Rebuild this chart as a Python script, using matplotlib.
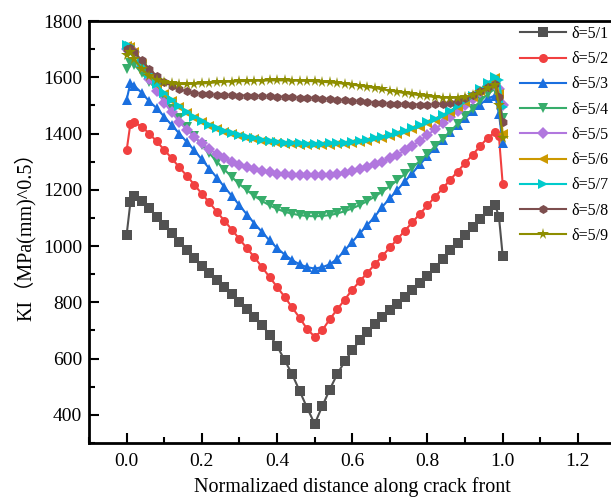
import matplotlib
matplotlib.use("Agg")
import matplotlib.pyplot as plt
from matplotlib.ticker import MultipleLocator

# positions along the crack front (normalized)
x = [0.0, 0.01] + [round(0.02 * i, 2) for i in range(1, 50)] + [0.99, 1.0]

k_5_1 = [1040, 1155, 1178, 1160, 1135, 1105, 1075, 1045, 1015, 985, 957, 930,
         905, 880, 855, 828, 800, 775, 748, 720, 685, 645, 595, 545, 485, 425,
         368, 430, 490, 545, 590, 630, 665, 695, 722, 748, 772, 795, 820, 843,
         868, 893, 922, 955, 985, 1012, 1040, 1068, 1095, 1125, 1145, 1105, 965]
k_5_2 = [1340, 1435, 1440, 1425, 1400, 1372, 1342, 1312, 1280, 1250, 1218, 1186,
         1155, 1122, 1090, 1058, 1025, 992, 960, 925, 890, 855, 820, 782, 745, 705,
         678, 700, 740, 775, 810, 845, 875, 905, 935, 965, 995, 1025, 1055, 1085,
         1115, 1145, 1175, 1205, 1235, 1265, 1295, 1325, 1355, 1385, 1405, 1390, 1220]
k_5_3 = [1520, 1580, 1570, 1545, 1515, 1490, 1460, 1430, 1400, 1370, 1340, 1308,
         1275, 1243, 1210, 1178, 1145, 1112, 1080, 1050, 1020, 993, 970, 950, 935,
         925, 920, 925, 935, 955, 985, 1015, 1045, 1075, 1105, 1140, 1170, 1200,
         1230, 1260, 1290, 1320, 1350, 1378, 1405, 1430, 1455, 1480, 1503, 1525,
         1535, 1470, 1365]
k_5_4 = [1630, 1650, 1645, 1615, 1585, 1555, 1520, 1487, 1455, 1422, 1390, 1360,
         1330, 1300, 1272, 1245, 1220, 1198, 1178, 1160, 1145, 1132, 1122, 1115,
         1110, 1107, 1106, 1107, 1110, 1116, 1124, 1134, 1146, 1160, 1176, 1194,
         1213, 1234, 1256, 1279, 1303, 1328, 1354, 1380, 1407, 1434, 1461, 1488,
         1515, 1540, 1560, 1530, 1455]
k_5_5 = [1700, 1705, 1690, 1640, 1595, 1550, 1510, 1475, 1442, 1413, 1388, 1365,
         1345, 1327, 1312, 1300, 1289, 1280, 1273, 1267, 1262, 1258, 1255, 1253,
         1252, 1251, 1251, 1252, 1254, 1257, 1261, 1266, 1273, 1281, 1290, 1300,
         1312, 1325, 1340, 1357, 1375, 1395, 1415, 1436, 1458, 1480, 1502, 1524,
         1546, 1568, 1585, 1560, 1500]
k_5_6 = [1712, 1706, 1690, 1646, 1606, 1571, 1541, 1516, 1493, 1473, 1456, 1441,
         1428, 1416, 1406, 1397, 1390, 1384, 1379, 1374, 1370, 1367, 1364, 1362,
         1361, 1360, 1360, 1360, 1361, 1362, 1364, 1367, 1370, 1374, 1379, 1385,
         1391, 1398, 1406, 1415, 1425, 1436, 1448, 1461, 1476, 1493, 1511, 1531,
         1553, 1576, 1596, 1540, 1400]
k_5_7 = [1715, 1710, 1695, 1650, 1610, 1575, 1545, 1520, 1497, 1477, 1460, 1445,
         1432, 1420, 1410, 1401, 1394, 1388, 1383, 1378, 1374, 1371, 1368, 1366,
         1365, 1364, 1364, 1364, 1365, 1366, 1368, 1371, 1374, 1378, 1383, 1389,
         1395, 1402, 1410, 1419, 1429, 1440, 1452, 1465, 1480, 1497, 1515, 1535,
         1557, 1580, 1600, 1590, 1495]
k_5_8 = [1700, 1705, 1690, 1660, 1630, 1605, 1585, 1570, 1558, 1550, 1545, 1541,
         1539, 1538, 1537, 1536, 1535, 1535, 1534, 1533, 1532, 1531, 1530, 1529,
         1528, 1527, 1526, 1524, 1522, 1520, 1518, 1516, 1514, 1512, 1510, 1508,
         1506, 1505, 1504, 1503, 1503, 1503, 1504, 1506, 1510, 1516, 1525, 1537,
         1552, 1567, 1575, 1530, 1440]
k_5_9 = [1680, 1690, 1665, 1630, 1605, 1590, 1582, 1578, 1576, 1576, 1577, 1578,
         1580, 1582, 1584, 1585, 1586, 1587, 1588, 1588, 1589, 1589, 1589, 1588,
         1588, 1587, 1586, 1584, 1582, 1580, 1577, 1574, 1570, 1566, 1562, 1557,
         1553, 1548, 1544, 1540, 1536, 1533, 1530, 1528, 1527, 1527, 1530, 1537,
         1548, 1562, 1572, 1500, 1385]

labels = ["δ=5/1", "δ=5/2", "δ=5/3", "δ=5/4", "δ=5/5",
          "δ=5/6", "δ=5/7", "δ=5/8", "δ=5/9"]
series = [k_5_1, k_5_2, k_5_3, k_5_4, k_5_5, k_5_6, k_5_7, k_5_8, k_5_9]
colors = ["#515151", "#F14040", "#1A6FDF", "#37AD6B", "#B177DE",
          "#CC9900", "#00CBCC", "#7D4E4E", "#8E8E00"]
markers = ["s", "o", "^", "v", "D", "<", ">", "h", "*"]

plt.rcParams["font.family"] = ["Liberation Serif", "Noto Sans CJK SC"]

fig = plt.figure(figsize=(6.11, 4.98), dpi=100)
ax = fig.add_axes([0.1457, 0.1104, 0.8617, 0.8474])

for ys, lab, c, m in zip(series, labels, colors, markers):
    ms = 8.5 if m == "*" else 6.5
    ax.plot(x, ys, color=c, marker=m, markersize=ms, linewidth=1.5, label=lab,
            markeredgewidth=0)

ax.set_xlim(-0.1, 1.3)
ax.set_ylim(300, 1800)
ax.xaxis.set_major_locator(MultipleLocator(0.2))
ax.xaxis.set_minor_locator(MultipleLocator(0.1))
ax.yaxis.set_major_locator(MultipleLocator(200))
ax.yaxis.set_minor_locator(MultipleLocator(100))
ax.set_yticks(range(400, 1801, 200))
ax.tick_params(which="both", direction="in", width=1.5, labelsize=14)
ax.tick_params(which="major", length=7)
ax.tick_params(which="minor", length=4)
ax.tick_params(axis="x", pad=7)
ax.tick_params(axis="y", pad=5)
for s in ax.spines.values():
    s.set_linewidth(2)

ax.set_xlabel("Normalizaed distance along crack front", fontsize=14.5, labelpad=5)
ax.set_ylabel("KI（MPa(mm)^0.5）", fontsize=14.5, labelpad=5)

leg = ax.legend(loc="upper left", bbox_to_anchor=(0.851, 0.948),
                bbox_transform=fig.transFigure, frameon=False, fontsize=11.5,
                handlelength=2.9, handletextpad=0.3, labelspacing=0.58,
                borderpad=0, borderaxespad=0)

fig.savefig("out.png", dpi=100)
